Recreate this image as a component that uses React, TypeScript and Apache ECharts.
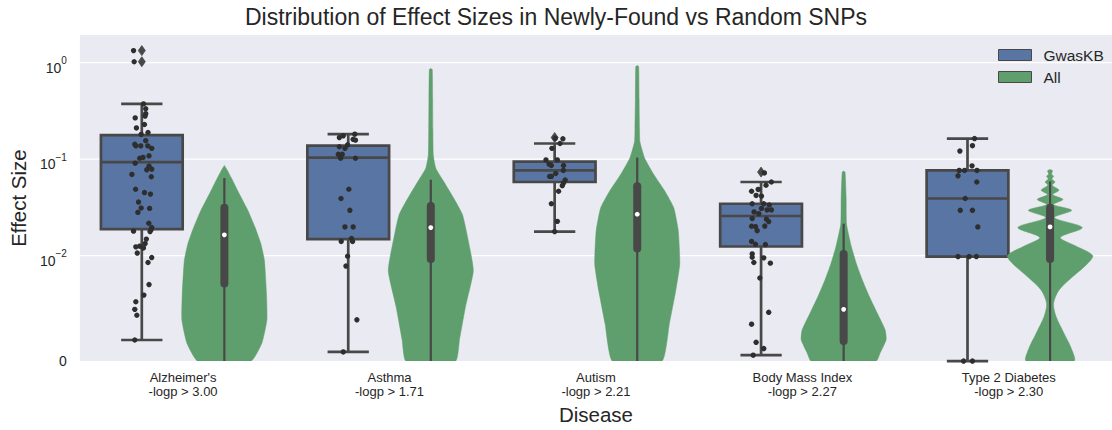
import React, { useEffect, useRef } from "react";
import * as echarts from "echarts";

// ---------------- data ----------------
const categories = [
  "Alzheimer's\n-logp > 3.00",
  "Asthma\n-logp > 1.71",
  "Autism\n-logp > 2.21",
  "Body Mass Index\n-logp > 2.27",
  "Type 2 Diabetes\n-logp > 2.30",
];
const seriesNames = ["GwasKB", "All"];
const yTickValues = [0, 0.01, 0.1, 1];
const yTickLabels = [
  ["0", ""],
  ["10", "\u22122"],
  ["10", "\u22121"],
  ["10", "0"],
];
const yAxisTop = 1.93;

// GwasKB box stats: [lowWhisker, q1, median, q3, highWhisker]
const gwasBoxStats = [
  [0.002, 0.0188, 0.0927, 0.177, 0.373],
  [0.00087, 0.0148, 0.1036, 0.1375, 0.181],
  [0.0177, 0.0578, 0.0762, 0.0942, 0.145],
  [0.00056, 0.0124, 0.0257, 0.0344, 0.0578],
  [0, 0.0099, 0.039, 0.0762, 0.163],
];
// GwasKB outliers: [categoryIndex, value]
const gwasFliers = [
  [0, 1.33],
  [0, 1.02],
  [2, 0.167],
  [3, 0.0732],
];

// GwasKB strip points: [value, jitter (fraction of category width)]
const alzheimersPoints = [
  [1.33, -0.04], [1.02, -0.037], [0.373, 0.008], [0.332, 0.019], [0.295, 0.019], [0.279, 0.016],
  [0.267, -0.032], [0.228, 0.013], [0.21, -0.026], [0.18, -0.003], [0.188, 0.03], [0.155, 0.019],
  [0.142, -0.034], [0.137, -0.029], [0.137, -0.005], [0.137, 0.029], [0.129, 0.048], [0.108, 0.035],
  [0.102, -0.01], [0.104, 0.006], [0.0906, -0.032], [0.0844, 0.035], [0.0773, 0.024], [0.0785, 0.048],
  [0.0693, -0.048], [0.0655, 0.046], [0.0486, -0.03], [0.0449, 0.013], [0.0433, 0.042], [0.0358, -0.016],
  [0.0311, -0.003], [0.0308, 0.038], [0.028, -0.019], [0.0216, 0.034], [0.0195, 0.048], [0.0185, 0.045],
  [0.0177, 0.04], [0.0179, -0.04], [0.0148, 0.022], [0.0133, 0.016], [0.0123, -0.029], [0.0125, -0.01],
  [0.012, 0.008], [0.0106, -0.022], [0.00981, 0.048], [0.00934, 0.03], [0.00725, 0.035], [0.00625, 0.01],
  [0.00562, -0.029], [0.0049, -0.034], [0.00434, -0.024], [0.002, -0.034],
];
const asthmaPoints = [
  [0.167, -0.043], [0.174, -0.024], [0.181, 0.032], [0.16, 0.024], [0.157, 0.035], [0.14, -0.003],
  [0.129, -0.016], [0.134, -0.043], [0.112, -0.048], [0.112, -0.029], [0.102, -0.037], [0.102, 0.035],
  [0.0486, 0.003], [0.039, -0.035], [0.0294, 0.008], [0.0198, -0.016], [0.0198, 0.024], [0.014, -0.034],
  [0.015, 0.016], [0.014, 0.021], [0.00993, -0.003], [0.009, -0.011], [0.00391, 0.042], [0.00087, -0.024],
];
const autismPoints = [
  [0.162, 0.04], [0.164, 0.003], [0.145, 0.026], [0.129, -0.013], [0.098, 0.013], [0.098, -0.042],
  [0.0886, -0.027], [0.0858, -0.016], [0.0858, 0.043], [0.0762, 0.042], [0.0708, 0.005], [0.0661, -0.024],
  [0.0661, -0.016], [0.0607, 0.051], [0.0564, 0.043], [0.053, 0.037], [0.0464, 0.019], [0.0344, -0.016],
  [0.0226, 0.013], [0.0177, 0.0],
];
const bmiPoints = [
  [0.0718, 0.016], [0.0578, 0.05], [0.0535, 0.024], [0.0484, -0.014], [0.0464, -0.046], [0.042, -0.024],
  [0.0413, 0.002], [0.0344, -0.043], [0.0344, 0.013], [0.0334, 0.04], [0.0308, 0.002], [0.0297, 0.029],
  [0.0297, 0.05], [0.0283, -0.034], [0.0272, -0.011], [0.0242, -0.043], [0.0238, 0.026], [0.0225, 0.037],
  [0.0201, -0.046], [0.0199, -0.027], [0.0181, -0.019], [0.0202, 0.018], [0.014, -0.046], [0.0131, -0.027],
  [0.013, 0.021], [0.0104, -0.043], [0.00984, -0.043], [0.00978, 0.013], [0.00934, -0.035], [0.00928, 0.045],
  [0.00787, -0.006], [0.00462, 0.037], [0.0035, -0.046], [0.00178, -0.024], [0.00119, 0.013], [0.00056, -0.038],
];
const t2dPoints = [
  [0.163, 0.034], [0.1375, 0.024], [0.121, -0.037], [0.085, 0.022], [0.0762, -0.04], [0.0762, -0.014],
  [0.0762, 0.046], [0.067, -0.046], [0.0578, 0.045], [0.039, -0.011], [0.0294, -0.035], [0.0294, 0.024],
  [0.0198, 0.05], [0.0099, -0.046], [0.0099, 0.008], [0.0099, 0.043], [0, -0.019], [0, 0.024],
];
const gwasPoints = [alzheimersPoints, asthmaPoints, autismPoints, bmiPoints, t2dPoints];

// "All" violin outlines: [value, half width (fraction of category width)], top to bottom
const alzheimersViolin = [
  [0.0858, 0], [0.0767, 0.014], [0.0636, 0.034], [0.0428, 0.074], [0.029, 0.115], [0.0195, 0.149],
  [0.0132, 0.177], [0.00953, 0.194], [0.0064, 0.204], [0.00391, 0.206], [0.00172, 0.182], [0, 0.129],
];
const asthmaViolin = [
  [0.87, 0], [0.85, 0.007], [0.42, 0.009], [0.207, 0.01], [0.11, 0.012], [0.0805, 0.024], [0.0588, 0.062],
  [0.0396, 0.11], [0.0267, 0.153], [0.018, 0.172], [0.00859, 0.206], [0.00515, 0.168], [0.00203, 0.139], [0, 0.12],
];
const autismViolin = [
  [0.93, 0], [0.91, 0.007], [0.42, 0.009], [0.207, 0.011], [0.151, 0.013], [0.102, 0.036], [0.0687, 0.081],
  [0.0464, 0.134], [0.0313, 0.177], [0.018, 0.199], [0.00921, 0.206], [0.00672, 0.187], [0.00359, 0.156], [0, 0.12],
];
const bmiViolin = [
  [0.075, 0], [0.0732, 0.007], [0.0396, 0.012], [0.0211, 0.014], [0.0122, 0.038], [0.00921, 0.062],
  [0.00766, 0.091], [0.00609, 0.125], [0.00453, 0.163], [0.00297, 0.201], [0.00203, 0.206], [0.00078, 0.177], [0, 0.158],
];
const t2dViolin = [
  [0.078, 0], [0.0755, 0.012], [0.0698, 0.007], [0.0662, 0.017], [0.0621, 0.009], [0.0578, 0.024],
  [0.0535, 0.011], [0.0475, 0.043], [0.0428, 0.013], [0.0381, 0.062], [0.0338, 0.017], [0.0294, 0.105],
  [0.0247, 0.022], [0.0195, 0.156], [0.0154, 0.05], [0.0127, 0.12], [0.01, 0.206], [0.00921, 0.18],
  [0.00797, 0.108], [0.00672, 0.043], [0.00546, 0.017], [0.00422, 0.029], [0.00265, 0.067], [0.0011, 0.105], [0, 0.115],
];
const allViolins = [alzheimersViolin, asthmaViolin, autismViolin, bmiViolin, t2dViolin];
// "All" inner box: [lowWhisker, q1, median, q3, highWhisker]
const allInnerStats = [
  [0, 0.00734, 0.0164, 0.0313, 0.0636],
  [0, 0.00968, 0.0195, 0.0326, 0.0611],
  [0, 0.0118, 0.0268, 0.0523, 0.1036],
  [0, 0.0019, 0.0049, 0.0104, 0.0214],
  [0, 0.00968, 0.0198, 0.0313, 0.0588],
];

// ---------------- scale (symlog, linthresh 0.01) ----------------
const LIN_THRESH = 0.01;
const LIN_SCALE = 1.094;
const sym = (v: number) =>
  v <= LIN_THRESH ? (LIN_SCALE * v) / LIN_THRESH : LIN_SCALE + Math.log10(v / LIN_THRESH);

const BOX_OFFSET = -0.2;
const VIOLIN_OFFSET = 0.2;
const BOX_HALF = 0.198;
const CAP_HALF = 0.1;
const LINE = "#484848";
const BLUE = "#5875a3";
const GREEN = "#5f9e6d";
const TEXT = "#262626";
const FONT = "'Liberation Sans', Arial, sans-serif";

export default function App() {
  const ref = useRef<HTMLDivElement>(null);
  useEffect(() => {
    if (!ref.current) return;
    const chart = echarts.init(ref.current, undefined, { renderer: "svg" });

    const boxData = gwasBoxStats.map((s, i) => [i, ...s]);
    const flierData = gwasFliers.map((f) => [f[0], f[1]]);
    const stripData: number[][] = [];
    gwasPoints.forEach((pts, i) => pts.forEach((p) => stripData.push([i, p[0], p[1]])));
    const violinData = allInnerStats.map((s, i) => [i, ...s]);
    const gridData = yTickValues.slice(1).map((v) => [0, v]);

    const option: any = {
      animation: false,
      textStyle: { fontFamily: FONT },
      title: {
        text: "Distribution of Effect Sizes in Newly-Found vs Random SNPs",
        left: "center",
        top: 0,
        textStyle: { fontSize: 23, fontWeight: "normal", color: TEXT, fontFamily: FONT },
      },
      legend: {
        data: seriesNames,
        orient: "vertical",
        left: 993,
        top: 41,
        itemWidth: 33,
        itemHeight: 11,
        itemGap: 4,
        selectedMode: false,
        icon: "rect",
        itemStyle: { borderColor: LINE, borderWidth: 1 },
        textStyle: { fontSize: 15.5, color: TEXT, padding: [0, 0, 0, 7], lineHeight: 18 },
      },
      grid: {
        left: 77,
        top: 35,
        height: 330,
        width: 1043.5,
        show: true,
        backgroundColor: "#eaeaf2",
        borderWidth: 0,
      },
      xAxis: {
        type: "category",
        data: categories,
        axisLine: { show: false },
        axisTick: { show: false },
        splitLine: { show: false },
        axisLabel: { fontSize: 13, lineHeight: 14.5, color: TEXT, margin: 9 },
        name: "Disease",
        nameLocation: "middle",
        nameGap: 42,
        nameTextStyle: { fontSize: 20.5, color: TEXT },
      },
      yAxis: {
        type: "value",
        min: 0,
        max: sym(yAxisTop),
        axisLine: { show: false },
        axisTick: { show: false },
        splitLine: { show: false },
        name: "Effect Size",
        nameLocation: "middle",
        nameGap: 50,
        nameTextStyle: { fontSize: 20.5, color: TEXT },
        axisLabel: {
          customValues: yTickValues.map(sym),
          margin: 13,
          color: TEXT,
          fontSize: 14,
          formatter: (val: number) => {
            const k = yTickValues.findIndex((t) => Math.abs(sym(t) - val) < 1e-6);
            if (k < 0) return "";
            const [b, s] = yTickLabels[k];
            if (!s) return b;
            return `{b|${b}}{s|${s}}`;
          },
          rich: {
            b: { fontSize: 14, lineHeight: 14, color: TEXT, verticalAlign: "top", padding: [5, 0, 19, 0], fontFamily: FONT },
            s: { fontSize: 10, lineHeight: 10, color: TEXT, verticalAlign: "top", padding: [0, 0, 28, 0], fontFamily: FONT },
          },
        },
      },
      series: [
        {
          name: "gridlines",
          type: "custom",
          z: 1,
          silent: true,
          data: gridData,
          encode: { x: 0, y: 1 },
          renderItem: (params: any, api: any) => {
            const y = api.coord([0, sym(api.value(1))])[1];
            const cs = params.coordSys;
            return {
              type: "line",
              shape: { x1: cs.x, y1: y, x2: cs.x + cs.width, y2: y },
              style: { stroke: "#ffffff", lineWidth: 1.3 },
            };
          },
        },
        {
          name: "GwasKB",
          type: "custom",
          z: 2,
          itemStyle: { color: BLUE },
          data: boxData,
          encode: { x: 0, y: [1, 2, 3, 4, 5] },
          renderItem: (params: any, api: any) => {
            const i = api.value(0);
            const band = api.size([1, 0])[0];
            const cx = api.coord([i, 0])[0] + BOX_OFFSET * band;
            const py = (v: number) => api.coord([i, sym(v)])[1];
            const lo = api.value(1), q1 = api.value(2), md = api.value(3), q3 = api.value(4), hi = api.value(5);
            const hw = BOX_HALF * band;
            const cw = CAP_HALF * band;
            const ls = { stroke: LINE, lineWidth: 2.7 };
            return {
              type: "group",
              children: [
                { type: "line", shape: { x1: cx, y1: py(q3), x2: cx, y2: py(hi) }, style: ls },
                { type: "line", shape: { x1: cx, y1: py(q1), x2: cx, y2: py(lo) }, style: ls },
                { type: "line", shape: { x1: cx - cw, y1: py(hi), x2: cx + cw, y2: py(hi) }, style: ls },
                { type: "line", shape: { x1: cx - cw, y1: py(lo), x2: cx + cw, y2: py(lo) }, style: ls },
                {
                  type: "rect",
                  shape: { x: cx - hw, y: py(q3), width: 2 * hw, height: py(q1) - py(q3) },
                  style: { fill: BLUE, stroke: LINE, lineWidth: 2.7 },
                },
                { type: "line", shape: { x1: cx - hw, y1: py(md), x2: cx + hw, y2: py(md) }, style: ls },
              ],
            };
          },
        },
        {
          name: "fliers",
          type: "custom",
          z: 3,
          data: flierData,
          encode: { x: 0, y: 1 },
          renderItem: (params: any, api: any) => {
            const i = api.value(0);
            const band = api.size([1, 0])[0];
            const [x0, y] = api.coord([i, sym(api.value(1))]);
            const cx = x0 + BOX_OFFSET * band;
            return {
              type: "polygon",
              shape: { points: [[cx, y - 5], [cx + 3.5, y], [cx, y + 5], [cx - 3.5, y]] },
              style: { fill: LINE, stroke: LINE, lineWidth: 0.8 },
            };
          },
        },
        {
          name: "All",
          type: "custom",
          z: 3,
          clip: true,
          itemStyle: { color: GREEN },
          data: violinData,
          encode: { x: 0, y: [1, 2, 3, 4, 5] },
          renderItem: (params: any, api: any) => {
            const i = api.value(0);
            const band = api.size([1, 0])[0];
            const cx = api.coord([i, 0])[0] + VIOLIN_OFFSET * band;
            const py = (v: number) => api.coord([i, sym(v)])[1];
            const prof = allViolins[i];
            const left = prof.map((p) => [cx - p[1] * band, py(p[0])]);
            const right = prof.map((p) => [cx + p[1] * band, py(p[0])]).reverse();
            const lo = api.value(1), q1 = api.value(2), md = api.value(3), q3 = api.value(4), hi = api.value(5);
            return {
              type: "group",
              children: [
                {
                  type: "polygon",
                  shape: { points: left.concat(right), smooth: i === 4 ? 0.3 : 0.15 },
                  style: { fill: GREEN, stroke: GREEN, lineWidth: 0.5 },
                },
                { type: "line", shape: { x1: cx, y1: py(hi), x2: cx, y2: py(lo) }, style: { stroke: LINE, lineWidth: 2.2 } },
                {
                  type: "line",
                  shape: { x1: cx, y1: py(q3), x2: cx, y2: py(q1) },
                  style: { stroke: LINE, lineWidth: 8, lineCap: "round" },
                },
                { type: "circle", shape: { cx, cy: py(md), r: 2.4 }, style: { fill: "#ffffff" } },
              ],
            };
          },
        },
        {
          name: "strip",
          type: "custom",
          z: 4,
          data: stripData,
          encode: { x: 0, y: 1 },
          renderItem: (params: any, api: any) => {
            const i = api.value(0);
            const band = api.size([1, 0])[0];
            const [x0, y] = api.coord([i, sym(api.value(1))]);
            const cx = x0 + (BOX_OFFSET + api.value(2)) * band;
            return { type: "circle", shape: { cx, cy: y, r: 2.7 }, style: { fill: "#2e2e2e" } };
          },
        },
      ],
    };
    chart.setOption(option);
    return () => chart.dispose();
  }, []);
  return (
    <div
      ref={ref}
      style={{ position: "fixed", left: 0, top: 0, width: 1112, height: 430, background: "#ffffff" }}
    />
  );
}
